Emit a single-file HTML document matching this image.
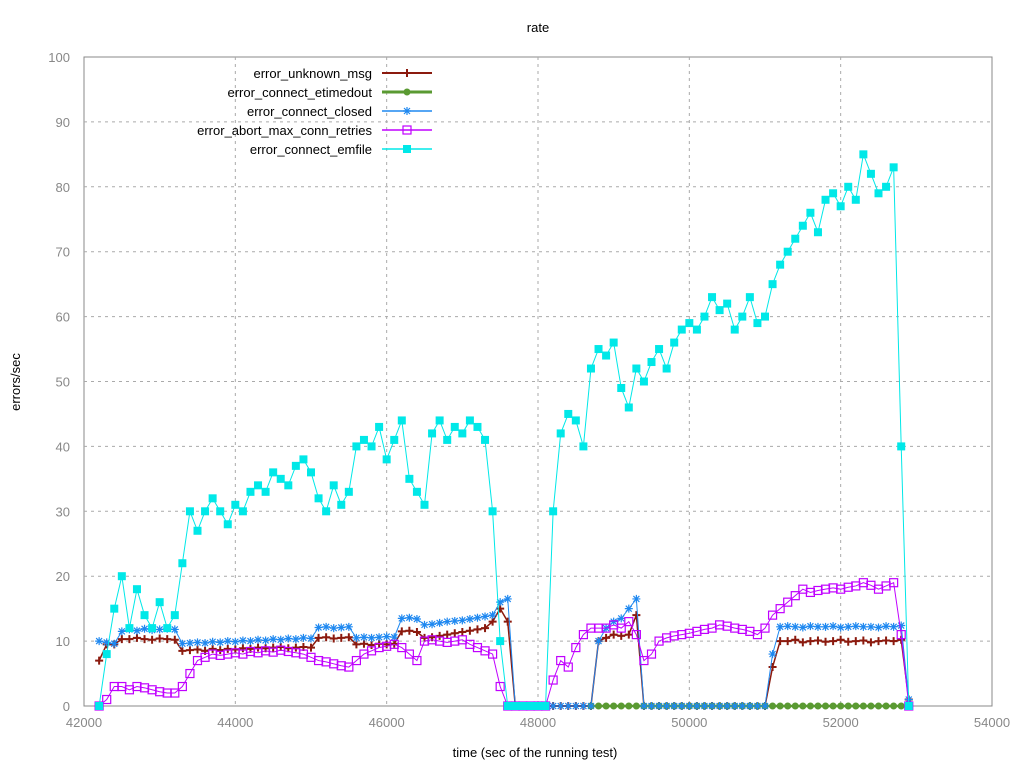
<!DOCTYPE html>
<html><head><meta charset="utf-8"><style>
body{margin:0;background:#fff;font-family:"Liberation Sans",sans-serif}
svg text{font-family:"Liberation Sans",sans-serif;font-size:13px}
</style></head><body>
<svg id="chart" width="1024" height="768" xmlns="http://www.w3.org/2000/svg">
<text x="538" y="32" text-anchor="middle" fill="#000">rate</text>
<text x="20" y="382" text-anchor="middle" transform="rotate(-90 20 382)">errors/sec</text>
<text x="535" y="757" text-anchor="middle">time (sec of the running test)</text>
<g id="grid"></g><g id="ticks"></g><g id="series"></g><g id="legend"></g>
</svg>
<script>
const xStart = 42200, xStep = 100;
const xTicks = [42000,44000,46000,48000,50000,52000,54000];
const yTicks = [0,10,20,30,40,50,60,70,80,90,100];
const emfile = [0,8,15,20,12,18,14,12,16,12,14,22,30,27,30,32,30,28,31,30,33,34,33,36,35,34,37,38,36,32,30,34,31,33,40,41,40,43,38,41,44,35,33,31,42,44,41,43,42,44,43,41,30,10,0,0,0,0,0,0,30,42,45,44,40,52,55,54,56,49,46,52,50,53,55,52,56,58,59,58,60,63,61,62,58,60,63,59,60,65,68,70,72,74,76,73,78,79,77,80,78,85,82,79,80,83,40,0];
const unknownMsg = [7,9.5,9.5,10.3,10.3,10.5,10.3,10.2,10.4,10.3,10.2,8.5,8.6,8.7,8.5,8.8,8.6,8.8,8.7,8.9,8.8,9,8.9,9,9.1,8.9,9,9.1,9,10.5,10.6,10.4,10.5,10.6,9.5,9.6,9.4,9.6,9.5,9.6,11.5,11.6,11.4,10.5,10.6,10.8,11,11.2,11.4,11.6,11.8,12,13,15,13,0,0,0,0,0,0,0,0,0,0,0,10,10.5,11,10.8,11,14,0,0,0,0,0,0,0,0,0,0,0,0,0,0,0,0,0,6,10,10,10.2,9.8,10,10.1,9.9,10,10.2,9.9,10,10.1,9.8,10,10.1,10,10.2,1];
const closed = [10,9.8,9.6,11.5,11.8,11.6,11.9,11.7,11.8,11.9,11.8,9.6,9.7,9.8,9.7,9.9,9.8,10,9.9,10.1,10,10.2,10.1,10.3,10.2,10.4,10.3,10.5,10.4,12.1,12.2,12,12.1,12.2,10.5,10.6,10.5,10.6,10.7,10.6,13.5,13.6,13.4,12.5,12.6,12.8,13,13.1,13.2,13.4,13.6,13.8,14,16,16.5,0,0,0,0,0,0,0,0,0,0,0,10,12,13,13.5,15,16.5,0,0,0,0,0,0,0,0,0,0,0,0,0,0,0,0,0,8,12.2,12.3,12.2,12.1,12.3,12.2,12.2,12.3,12.1,12.2,12.3,12.2,12.2,12.1,12.3,12.2,12.4,1];
const retries = [0,1,3,3,2.5,3,2.8,2.5,2.2,2,2,3,5,7,7.5,8,7.8,8,8.2,8,8.4,8.2,8.5,8.3,8.6,8.4,8.2,8,7.5,7,6.8,6.5,6.2,6,7,8,8.5,9,9.2,9.5,9,8,7,10,10.2,10,9.8,10,10.2,9.5,9,8.5,8,3,0,0,0,0,0,0,4,7,6,9,11,12,12,12,12.5,12,13,11,7,8,10,10.5,10.8,11,11.2,11.5,11.8,12,12.5,12.3,12,11.8,11.5,11,12,14,15,16,17,18,17.5,17.8,18,18.2,18,18.3,18.5,19,18.6,18,18.5,19,11,0];
const etimedoutStart = 48700;
const etimedout = [0,0,0,0,0,0,0,0,0,0,0,0,0,0,0,0,0,0,0,0,0,0,0,0,0,0,0,0,0,0,0,0,0,0,0,0,0,0,0,0,0,0];
const legendNames = ["error_unknown_msg","error_connect_etimedout","error_connect_closed","error_abort_max_conn_retries","error_connect_emfile"];

const NS="http://www.w3.org/2000/svg";
const L=84,R=992,T=57,B=706;
const sx=v=>L+(v-42000)/(54000-42000)*(R-L);
const sy=v=>B-v/100*(B-T);
function mk(tag,parent,attrs){const e=document.createElementNS(NS,tag);for(const k in attrs)e.setAttribute(k,attrs[k]);parent.appendChild(e);return e;}
const grid=document.getElementById('grid'),ticks=document.getElementById('ticks'),ser=document.getElementById('series'),leg=document.getElementById('legend');
mk('rect',grid,{x:L,y:T,width:R-L,height:B-T,fill:'none',stroke:'#888'});
yTicks.forEach(v=>{const y=sy(v);
 if(v>0&&v<100){const g=mk('line',grid,{x1:L,x2:R,y1:y,y2:y,stroke:'#aaa','stroke-dasharray':'3,4'});}
 const t=mk('text',ticks,{x:L-14,y:y+5,'text-anchor':'end',fill:'#888'});t.textContent=v;
 });
xTicks.forEach(v=>{const x=sx(v);
 if(v>42000&&v<54000){const g=mk('line',grid,{x1:x,x2:x,y1:T,y2:B,stroke:'#aaa','stroke-dasharray':'3,4'});}
 const t=mk('text',ticks,{x:x,y:B+21,'text-anchor':'middle',fill:'#888'});t.textContent=v;
 });

function marker(g,type,x,y,c){
 if(type==='plus'){mk('path',g,{d:`M${x-4},${y}h8M${x},${y-4}v8`,stroke:c,'stroke-width':2});}
 else if(type==='circle'){mk('circle',g,{cx:x,cy:y,r:3.5,fill:c});}
 else if(type==='star'){mk('path',g,{d:`M${x-4},${y}h8M${x},${y-4}v8M${x-3},${y-3}l6,6M${x-3},${y+3}l6,-6`,stroke:c,'stroke-width':1.2});}
 else if(type==='osq'){mk('rect',g,{x:x-4,y:y-4,width:8,height:8,fill:'none',stroke:c,'stroke-width':1.2});}
 else {mk('rect',g,{x:x-4,y:y-4,width:8,height:8,fill:c});}
}
function drawSeries(name,data,start,color,type,lw){
 const g=mk('g',ser,{});
 
 
 const pts=data.map((v,i)=>[sx(start+i*xStep),sy(v)]);
 const p=mk('polyline',g,{points:pts.map(p=>p.join(',')).join(' '),fill:'none',stroke:color,'stroke-width':lw});
 
 
 pts.forEach(q=>marker(g,type,q[0],q[1],color));
}
const specs=[
 ['error-unknown-msg',unknownMsg,xStart,'#8b1a0e','plus',1.5],
 ['error-connect-etimedout',etimedout,etimedoutStart,'#5a9a32','circle',2.5],
 ['error-connect-closed',closed,xStart,'#1e88f0','star',1],
 ['error-abort-max-conn-retries',retries,xStart,'#c000ff','osq',1],
 ['error-connect-emfile',emfile,xStart,'#00e8e8','sq',1]];
specs.forEach(s=>drawSeries(...s));
specs.forEach((s,i)=>{const y=73+i*19;
 const g=mk('g',leg,{});
 
 
 const t=mk('text',g,{x:372,y:y+5,'text-anchor':'end',fill:'#000'});t.textContent=legendNames[i];
 mk('line',g,{x1:382,x2:432,y1:y,y2:y,stroke:s[3],'stroke-width':s[5]+0.5});
 marker(g,s[4],407,y,s[3]);
});
</script>
</body></html>
